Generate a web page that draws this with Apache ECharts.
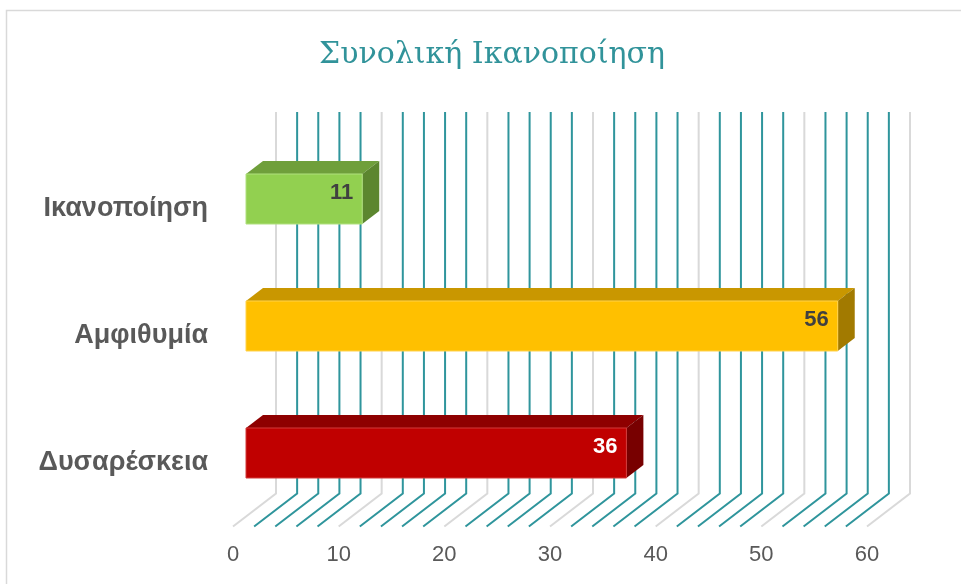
<!DOCTYPE html>
<html>
<head>
<meta charset="utf-8">
<script src="https://cdn.jsdelivr.net/npm/echarts@6/dist/echarts.min.js"></script>
<style>html,body{margin:0;padding:0;background:#fff;}#c{width:961px;height:584px;}</style>
</head>
<body>
<div id="c"></div>
<script>
// ---- data ----
const titleText = 'Συνολική Ικανοποίηση';
const categories = ['Δυσαρέσκεια', 'Αμφιθυμία', 'Ικανοποίηση']; // bottom to top
const values = [36, 56, 11];
const gridValues = [0,2,4,6,8,10,12,14,16,18,20,22,24,26,28,30,32,34,36,38,40,42,44,46,48,50,52,54,56,58,60];
const xMin = 0, xMax = 60, xStep = 10;

// ---- styles ----
const faceColors = [
  { front: '#C00000', top: '#8E0000', side: '#780000', edge: '#D23A3A', label: '#FFFFFF' },
  { front: '#FFC000', top: '#C99700', side: '#A27A00', edge: '#FFD24D', label: '#404040' },
  { front: '#92D050', top: '#6F9F3B', side: '#5C862F', edge: '#B0E07E', label: '#404040' }
];
const TEAL = '#2F959C', GRAY = '#D9D9D9';
const DEPTH = [43, -33];          // full floor depth
const FRONT_OFF = [13, -10];      // bar front face offset
const BAR_DEPTH = [17, -13];      // bar depth
const BAR_H = 50;

const chart = echarts.init(document.getElementById('c'), null, { renderer: 'canvas' });

function gridItem(params, api) {
  const v = api.value(0);
  const x = api.coord([v, 0])[0];
  const cs = params.coordSys;
  const bottom = cs.y + cs.height;
  const topY = cs.y - 33.5;
  const isMajor = v % 10 === 0;
  return {
    type: 'polyline',
    shape: { points: [[x, bottom], [x + DEPTH[0], bottom + DEPTH[1]], [x + DEPTH[0], topY]] },
    style: { stroke: isMajor ? GRAY : TEAL, lineWidth: 2, fill: null },
    silent: true
  };
}

function barItem(params, api) {
  const idx = api.value(1);
  const val = api.value(0);
  const p0 = api.coord([0, idx]);
  const p1 = api.coord([val, idx]);
  const c = faceColors[idx];
  const xl = p0[0] + FRONT_OFF[0];
  const xr = p1[0] + FRONT_OFF[0];
  const yt = p0[1] + FRONT_OFF[1] - BAR_H / 2;
  const yb = yt + BAR_H;
  const dx = BAR_DEPTH[0], dy = BAR_DEPTH[1];
  return {
    type: 'group',
    children: [
      { type: 'polygon', shape: { points: [[xl, yt], [xr, yt], [xr + dx, yt + dy], [xl + dx, yt + dy]] },
        style: { fill: c.top } },
      { type: 'polygon', shape: { points: [[xr, yt], [xr + dx, yt + dy], [xr + dx, yb + dy], [xr, yb]] },
        style: { fill: c.side } },
      { type: 'rect', shape: { x: xl, y: yt, width: xr - xl, height: BAR_H },
        style: { fill: c.front, stroke: c.edge, lineWidth: 1 } },
      { type: 'text', style: {
          text: String(val), x: xr - 9, y: (yt + dy + yb) / 2 + 0.5,
          align: 'right', verticalAlign: 'middle',
          fill: c.label, font: 'bold 22px "Liberation Sans", Arial, sans-serif' } }
    ]
  };
}

chart.setOption({
  animation: false,
  backgroundColor: '#fff',
  title: {
    text: titleText, left: 314, top: 35,
    textStyle: { fontFamily: '"DejaVu Serif", serif', fontSize: 30, fontWeight: 'normal', color: '#31939A' }
  },
  graphic: [{
    type: 'rect', z: -10, silent: true,
    shape: { x: 6.5, y: 10.5, width: 1000, height: 1000 },
    style: { fill: '#fff', stroke: '#D9D9D9', lineWidth: 1.5 }
  }],
  grid: { left: 233, top: 145.5, width: 634, height: 381, containLabel: false },
  xAxis: {
    type: 'value', min: xMin, max: xMax, interval: xStep,
    axisLine: { show: false }, axisTick: { show: false }, splitLine: { show: false },
    axisLabel: { color: '#595959', fontSize: 22, margin: 17, fontFamily: '"Liberation Sans", Arial, sans-serif' }
  },
  yAxis: {
    type: 'category', data: categories,
    axisLine: { show: false }, axisTick: { show: false }, splitLine: { show: false },
    axisLabel: { color: '#595959', fontSize: 27, fontWeight: 'bold', margin: 25, fontFamily: '"Liberation Sans", Arial, sans-serif' }
  },
  series: [
    { type: 'custom', z: 1, renderItem: gridItem, data: gridValues.map(v => [v]), silent: true },
    { type: 'custom', z: 5, renderItem: barItem, data: values.map((v, i) => [v, i]), silent: true }
  ]
});
</script>
</body>
</html>
